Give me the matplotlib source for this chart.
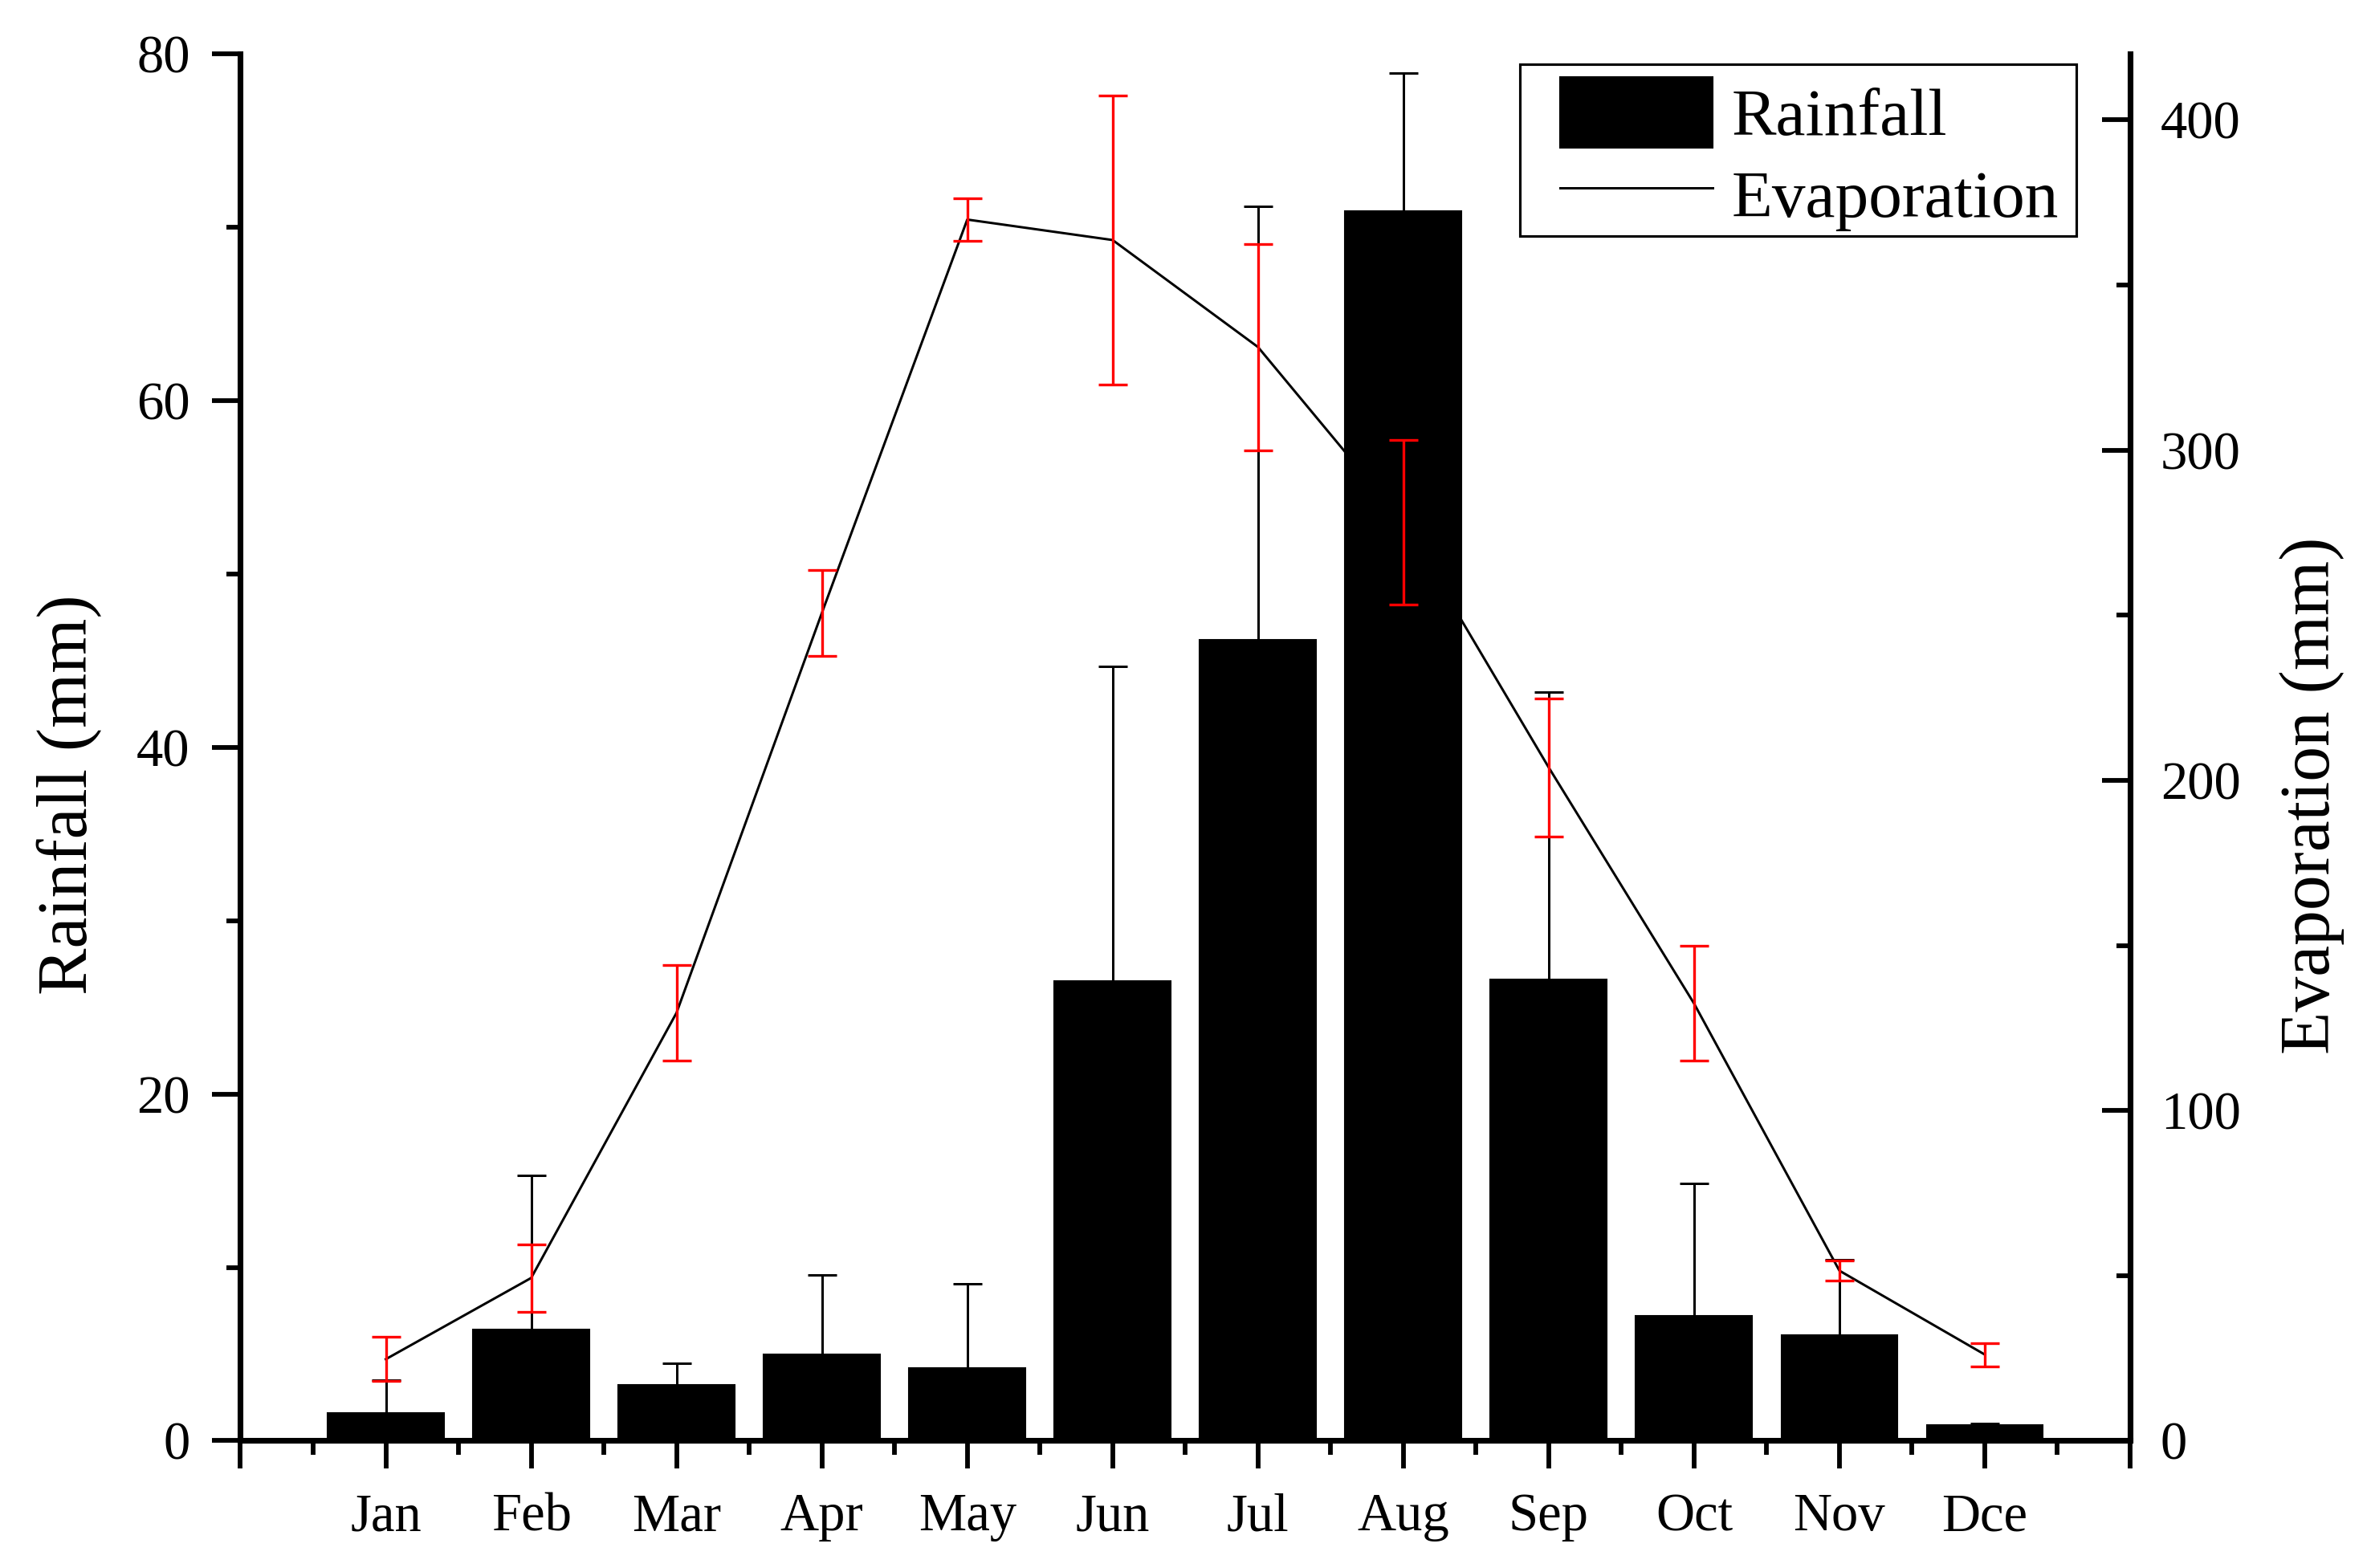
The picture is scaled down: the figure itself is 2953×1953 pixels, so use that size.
import matplotlib
matplotlib.use("Agg")
import matplotlib.pyplot as plt
from matplotlib.ticker import FixedLocator, MultipleLocator
from matplotlib.patches import Rectangle
import numpy as np

months = ['Jan', 'Feb', 'Mar', 'Apr', 'May', 'Jun', 'Jul', 'Aug', 'Sep', 'Oct', 'Nov', 'Dce']
rain = [1.6, 6.4, 3.2, 5.0, 4.2, 26.5, 46.2, 70.9, 26.6, 7.2, 6.1, 0.9]
rain_err = [1.9, 8.9, 1.25, 4.55, 4.85, 18.15, 25.0, 8.0, 16.6, 7.65, 4.35, 0.1]
evap = [24.7, 49.3, 129.6, 250.7, 369.8, 363.6, 331.2, 278.2, 203.9, 132.4, 51.5, 26.1]
evap_err = [6.7, 10.2, 14.5, 13.0, 6.5, 43.7, 31.2, 24.9, 20.9, 17.4, 3.0, 3.5]

plt.rcParams['font.family'] = ['Liberation Serif', 'DejaVu Serif']

fig = plt.figure(figsize=(2953 / 300, 1953 / 300), dpi=300)
ax1 = fig.add_axes([0.10142, 0.08116, 0.79699, 0.88454])
ax2 = ax1.twinx()

x = np.arange(1, len(months) + 1)

bars = ax1.bar(x, rain, width=0.8, color='black', edgecolor='black', linewidth=0.5,
               label='Rainfall', zorder=2)
ax1.errorbar(x, rain, yerr=[np.zeros(len(rain)), rain_err], fmt='none', ecolor='black',
             elinewidth=0.72, capsize=4.4, capthick=0.72, zorder=3)

line, = ax2.plot(x, evap, color='black', linewidth=0.72, label='Evaporation', zorder=3)
ax2.errorbar(x, evap, yerr=evap_err, fmt='none', ecolor='#ff0000', elinewidth=0.8,
             capsize=4.4, capthick=0.8, zorder=4)

ax1.set_xlim(0, 13)
ax1.set_ylim(0, 80)
ax2.set_ylim(0, 420)

# ticks
ax1.xaxis.set_major_locator(FixedLocator(np.arange(0, 14)))
ax1.set_xticklabels([''] + months + [''])
ax1.xaxis.set_minor_locator(FixedLocator(np.arange(0.5, 13, 1.0)))
ax1.yaxis.set_major_locator(MultipleLocator(20))
ax1.yaxis.set_minor_locator(MultipleLocator(10))
ax2.yaxis.set_major_locator(MultipleLocator(100))
ax2.yaxis.set_minor_locator(MultipleLocator(50))

for sp in ['top', 'right']:
    ax1.spines[sp].set_visible(False)
for sp in ['top', 'left', 'bottom']:
    ax2.spines[sp].set_visible(False)
ax1.spines['left'].set_linewidth(1.7)
ax1.spines['bottom'].set_linewidth(1.7)
ax2.spines['right'].set_linewidth(1.7)

ax1.tick_params(axis='x', which='major', direction='out', length=8.5, width=1.4,
                labelsize=16, pad=7)
ax1.tick_params(axis='x', which='minor', direction='out', length=4.2, width=1.4)
ax1.tick_params(axis='y', which='major', direction='out', length=8.5, width=1.4,
                labelsize=16, pad=6.6)
ax1.tick_params(axis='y', which='minor', direction='out', length=4.2, width=1.4)
ax2.tick_params(axis='y', which='major', direction='in', length=8.5, width=1.4,
                labelsize=16, pad=9.1)
ax2.tick_params(axis='y', which='minor', direction='in', length=4.2, width=1.4)

ax1.set_ylabel('Rainfall (mm)', fontsize=21)
ax2.set_ylabel('Evaporation (mm)', fontsize=21)
ax1.yaxis.set_label_coords(-0.0733, 0.466)
ax2.yaxis.set_label_coords(1.079, 0.4655)

leg = ax2.legend([bars, line], ['Rainfall', 'Evaporation'], loc='upper right',
                 bbox_to_anchor=(0.9665, 0.989), borderaxespad=0, fontsize=20,
                 handlelength=2.28, handleheight=1.25, handletextpad=0.29,
                 labelspacing=0.14, borderpad=0.12, frameon=False)

# legend frame with the wider left margin of the original
fig.canvas.draw()
bb = leg.get_window_extent(fig.canvas.get_renderer())
W, H = fig.bbox.width, fig.bbox.height
pad_l, pad_r, pad_t, pad_b = 40, 12, 6, -4
frame = Rectangle(((bb.x0 - pad_l) / W, (bb.y0 - pad_b) / H),
                  (bb.width + pad_l + pad_r) / W, (bb.height + pad_t + pad_b) / H,
                  transform=fig.transFigure, facecolor='none', edgecolor='black',
                  linewidth=0.75, zorder=10)
fig.add_artist(frame)

fig.savefig('out.png', dpi=300)
